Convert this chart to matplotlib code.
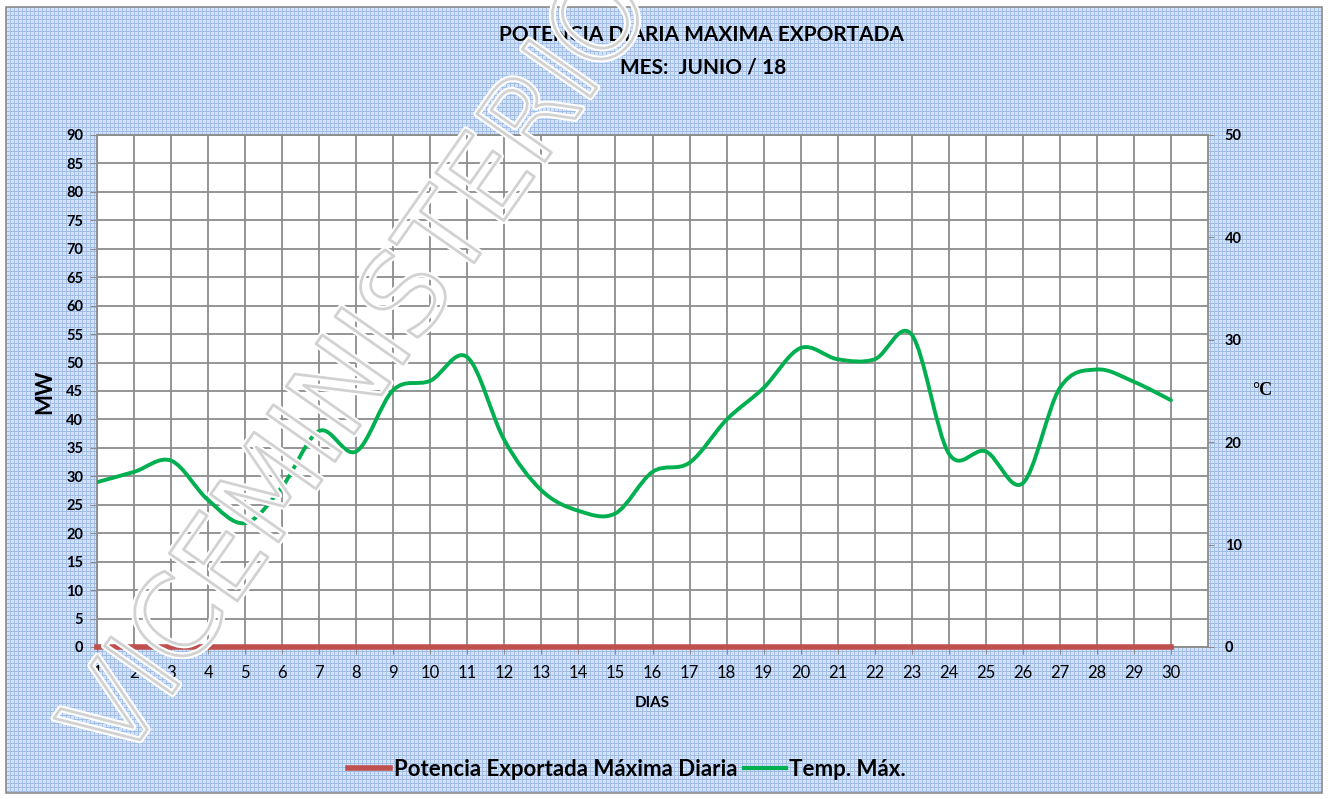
import numpy as np
import matplotlib
matplotlib.use('Agg')
import matplotlib.pyplot as plt
from matplotlib.path import Path
from matplotlib.patches import PathPatch, Rectangle
from matplotlib.lines import Line2D
import matplotlib.patheffects as pe

# data
dias = list(range(1, 31))
potencia_mw = [0] * 30
temp_max = [16.1, 17.1, 18.2, 14.35, 12.1, 15.65, 21.1, 19.1, 25.1, 26.0,
            28.3, 20.2, 15.3, 13.3, 13.05, 17.1, 18.0, 22.2, 25.3, 29.2,
            28.1, 28.1, 30.5, 18.9, 19.1, 16.0, 25.3, 27.1, 25.9, 24.1]

W, H = 1329, 799
plt.rcParams['font.family'] = ['Lato', 'DejaVu Sans']


def smooth_path(x, y):
    # excel-like smoothed line: catmull-rom segments as cubic beziers
    x = np.asarray(x, float)
    y = np.asarray(y, float)
    n = len(x)
    verts = [(x[0], y[0])]
    codes = [Path.MOVETO]
    for i in range(n - 1):
        xa, ya = (x[i - 1], y[i - 1]) if i > 0 else (x[i], y[i])
        xb, yb = (x[i + 2], y[i + 2]) if i < n - 2 else (x[i + 1], y[i + 1])
        c1 = (x[i] + (x[i + 1] - xa) / 6, y[i] + (y[i + 1] - ya) / 6)
        c2 = (x[i + 1] - (xb - x[i]) / 6, y[i + 1] - (yb - y[i]) / 6)
        verts += [c1, c2, (x[i + 1], y[i + 1])]
        codes += [Path.CURVE4] * 3
    return Path(verts, codes)


fig = plt.figure(figsize=(W / 100, H / 100), dpi=100)
fig.patch.set_facecolor('white')

# blue textured chart background
bw, bh = 1316, 786
tex = np.zeros((bh, bw, 3))
tex[:] = (0.85, 0.90, 0.97)
tex[::2, ::2] = (0.77, 0.84, 0.95)
tex[::4, :] = (0.62, 0.73, 0.90)
tex[:, ::4] = (0.64, 0.75, 0.91)
fig.figimage(tex, xo=6, yo=6, zorder=-2)
fig.patches.append(Rectangle((6 / W, 6 / H), bw / W, bh / H, transform=fig.transFigure,
                             fill=False, edgecolor='#8c8c8c', lw=1.2, zorder=-1))

ax = fig.add_axes([97 / W, 152 / H, 1111 / W, 512 / H])
ax.set_facecolor('white')
ax.set_xlim(1, 31)
ax.set_ylim(0, 90)
ax.set_xticks(dias)
ax.set_yticks(range(0, 95, 5))
ax.grid(True, color='#8c8c8c', lw=1.3)
ax.set_axisbelow(True)
for s in ax.spines.values():
    s.set_color('#8c8c8c')
    s.set_linewidth(1.3)
ax.tick_params(axis='x', direction='out', length=5, color='#8c8c8c', pad=8, labelsize=12)
ax.tick_params(axis='y', direction='out', length=5, color='#8c8c8c', pad=5, labelsize=10.5)
for lb in ax.get_yticklabels():
    lb.set_fontweight('bold')

ax.plot(dias, potencia_mw, color='#C0504D', lw=4, clip_on=False, zorder=5)

ax2 = ax.twinx()
ax2.set_ylim(0, 50)
ax2.set_yticks(range(0, 60, 10))
for s in ax2.spines.values():
    s.set_visible(False)
ax2.tick_params(axis='y', direction='out', length=4, color='#8c8c8c', pad=8, labelsize=10.5)
for lb in ax2.get_yticklabels():
    lb.set_fontweight('bold')
ax2.add_patch(PathPatch(smooth_path(dias, temp_max), fill=False,
                        edgecolor='#00B050', lw=2.8, capstyle='round', zorder=4))

# titles and labels
fig.text(701 / W, 1 - 35 / H, 'POTENCIA DIARIA MAXIMA EXPORTADA', ha='center', va='center',
         fontsize=15, fontweight='bold')
fig.text(703 / W, 1 - 67 / H, 'MES:  JUNIO / 18', ha='center', va='center',
         fontsize=15, fontweight='bold')
fig.text(652 / W, 1 - 703 / H, 'DIAS', ha='center', va='center', fontsize=11, fontweight='bold')
fig.text(45 / W, 1 - 392 / H, 'MW', ha='center', va='center', rotation=90,
         fontsize=16, fontweight='bold')
fig.text(1262 / W, 1 - 391 / H, '°C', ha='center', va='center', fontsize=13,
         fontweight='bold', family='Liberation Serif')

handles = [Line2D([], [], color='#C0504D', lw=4),
           Line2D([], [], color='#00B050', lw=3)]
fig.legend(handles, ['Potencia Exportada Máxima Diaria', 'Temp. Máx.'],
           loc='center', bbox_to_anchor=(627 / W, 1 - 769 / H), ncol=2, frameon=False,
           prop={'weight': 'bold', 'size': 16}, handlelength=1.9, handletextpad=0.15,
           columnspacing=0.3)

# watermark (the reference's stamp runs off the top edge too)
fig.text(362 / W, 1 - 368 / H, 'VICEMINISTERIO', ha='center', va='center', rotation=55,
         rotation_mode='anchor', fontsize=82, color='none', family='DejaVu Sans',
         path_effects=[pe.Stroke(linewidth=5, foreground='white'),
                       pe.Stroke(linewidth=2, foreground='#d2d2d2')],
         zorder=20)

fig.savefig('out.png', dpi=100, facecolor=fig.get_facecolor())
